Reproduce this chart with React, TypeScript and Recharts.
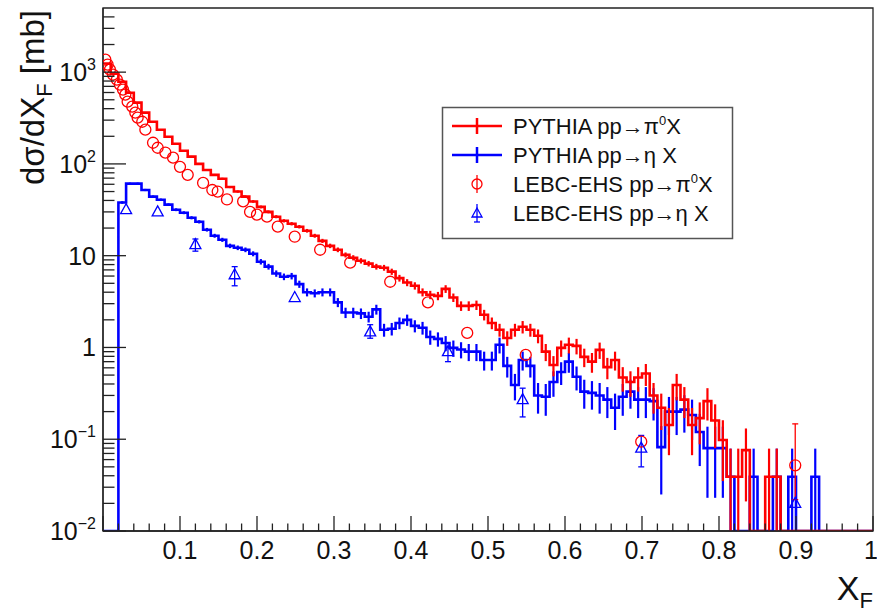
import React from 'react';
import { ComposedChart, Line, Scatter, XAxis, YAxis, ErrorBar, ReferenceArea } from 'recharts';

const FONT = '"Liberation Sans", Arial, Helvetica, sans-serif';
const RED = '#ff0000';
const BLUE = '#0000ff';
const AXIS = '#222';

const W = 877;
const H = 614;
const PLOT = { left: 103, right: 873, top: 8, bottom: 531 };

const Y_MIN = 0.01;
const Y_MAX = 5000;
const BIN_WIDTH = 0.01;

// PYTHIA pp -> pi0 X, bin contents (mb), 100 bins of 0.01 in xF
const pythiaPi0 = [
  1240, 963, 787, 597, 465, 362, 288, 236, 198, 166,
  139, 120, 100, 86, 76, 69, 56, 50, 44, 39,
  34, 30, 26.6, 24, 22.3, 20.7, 18.7, 16.5, 14.5, 12.8,
  11.6, 10.2, 9.5, 8.8, 8.2, 7.6, 7.4, 6.7, 5.7, 5.1,
  4.7, 4.0, 3.75, 3.65, 4.35, 3.5, 2.84, 2.84, 2.9, 2.27,
  1.85, 1.56, 1.27, 1.56, 1.68, 1.56, 1.34, 0.9, 0.645, 0.99,
  1.07, 1.04, 0.79, 0.7, 0.94, 0.61, 0.73, 0.47, 0.42, 0.47,
  0.52, 0.3, 0.22, 0.143, 0.39, 0.27, 0.143, 0.17, 0.26, 0.16,
  0.098, 0.039, 0.039, 0.076, 0, 0, 0.039, 0.039, 0, 0,
  0, 0, 0, 0, 0, 0, 0, 0, 0, 0,
];
const pythiaPi0Err = [
  7.0, 6.2, 5.6, 4.9, 4.3, 3.8, 3.4, 3.1, 2.8, 2.6,
  2.4, 2.2, 2.0, 1.85, 1.74, 1.66, 1.5, 1.41, 1.33, 1.25,
  1.17, 1.1, 1.03, 0.98, 0.94, 0.91, 0.86, 0.81, 0.76, 0.72,
  0.68, 0.64, 0.62, 0.59, 0.57, 0.55, 0.54, 0.52, 0.48, 0.45,
  0.43, 0.4, 0.39, 0.38, 0.42, 0.37, 0.34, 0.34, 0.34, 0.3,
  0.27, 0.25, 0.23, 0.25, 0.26, 0.25, 0.23, 0.19, 0.16, 0.2,
  0.21, 0.2, 0.18, 0.17, 0.19, 0.16, 0.17, 0.14, 0.13, 0.14,
  0.14, 0.11, 0.094, 0.076, 0.125, 0.1, 0.076, 0.082, 0.1, 0.08,
  0.063, 0.04, 0.04, 0.055, 0, 0, 0.04, 0.04, 0, 0,
  0, 0, 0, 0, 0, 0, 0, 0, 0, 0,
];

// PYTHIA pp -> eta X
const pythiaEta = [
  0, 0, 38, 61, 61, 52, 44, 40.7, 36, 31.7,
  29.4, 25.9, 23.4, 19.2, 16.5, 14.9, 12.8, 12.2, 11.6, 10.5,
  8.6, 7.6, 6.4, 5.9, 6.0, 4.9, 4.0, 3.9, 4.0, 4.0,
  3.1, 2.4, 2.4, 2.35, 2.16, 2.6, 1.56, 1.6, 1.85, 2.0,
  1.72, 1.64, 1.3, 1.24, 1.12, 0.99, 0.95, 0.9, 0.9, 0.73,
  0.73, 1.07, 0.63, 0.39, 0.73, 0.63, 0.3, 0.29, 0.42, 0.54,
  0.7, 0.48, 0.33, 0.32, 0.3, 0.27, 0.22, 0.29, 0.33, 0.27,
  0.27, 0.26, 0.082, 0.2, 0.2, 0.21, 0.184, 0.12, 0.08, 0.08,
  0.08, 0.039, 0, 0, 0.039, 0, 0, 0.039, 0, 0.039,
  0, 0, 0.039, 0, 0, 0, 0, 0, 0, 0,
];
const pythiaEtaErr = [
  0, 0, 1.23, 1.56, 1.56, 1.44, 1.33, 1.28, 1.2, 1.13,
  1.08, 1.02, 0.97, 0.88, 0.81, 0.77, 0.72, 0.7, 0.68, 0.65,
  0.59, 0.55, 0.51, 0.49, 0.49, 0.44, 0.4, 0.39, 0.4, 0.4,
  0.35, 0.31, 0.31, 0.31, 0.29, 0.32, 0.25, 0.25, 0.27, 0.28,
  0.26, 0.26, 0.23, 0.22, 0.21, 0.2, 0.19, 0.19, 0.19, 0.17,
  0.17, 0.21, 0.16, 0.125, 0.17, 0.16, 0.11, 0.11, 0.13, 0.15,
  0.17, 0.14, 0.115, 0.11, 0.11, 0.1, 0.094, 0.11, 0.115, 0.1,
  0.1, 0.1, 0.057, 0.089, 0.089, 0.092, 0.086, 0.069, 0.057, 0.057,
  0.057, 0.04, 0, 0, 0.04, 0, 0, 0.04, 0, 0.04,
  0, 0, 0.04, 0, 0, 0, 0, 0, 0, 0,
];

// LEBC-EHS pp -> pi0 X (open circles)
const lebcPi0X = [
  0.003, 0.006, 0.009, 0.013, 0.018, 0.022, 0.026, 0.029, 0.032, 0.038,
  0.042, 0.045, 0.051, 0.055, 0.065, 0.071, 0.081, 0.091, 0.1, 0.11,
  0.13, 0.142, 0.149, 0.161, 0.182, 0.191, 0.2, 0.213, 0.227, 0.249,
  0.282, 0.321, 0.373, 0.422, 0.473, 0.549, 0.699, 0.899,
];
const lebcPi0Y = [
  1370, 1207, 1065, 939, 828, 731, 644, 568, 477, 421,
  362, 319, 288, 236, 170, 150, 133, 117, 93, 76,
  62, 52, 50, 41, 39, 30, 28, 26.6, 20.7, 16.1,
  11.6, 8.4, 5.2, 3.1, 1.44, 0.83, 0.094, 0.052,
];
// error bars only where they stick out of the marker
const lebcPi0ErrLo: (number | null)[] = [
  null, null, null, null, null, null, null, null, null, null,
  null, null, null, null, null, null, null, null, null, null,
  null, null, null, null, null, null, null, null, null, null,
  null, null, null, null, null, null, null, 0.03,
];
const lebcPi0ErrHi: (number | null)[] = [
  null, null, null, null, null, null, null, null, null, null,
  null, null, null, null, null, null, null, null, null, null,
  null, null, null, null, null, null, null, null, null, null,
  null, null, null, null, null, null, null, 0.095,
];

// LEBC-EHS pp -> eta X (open triangles)
const lebcEtaX = [0.03, 0.071, 0.12, 0.171, 0.249, 0.347, 0.448, 0.545, 0.699, 0.899];
const lebcEtaY = [31.7, 30, 13.2, 6.2, 3.5, 1.48, 0.9, 0.27, 0.08, 0.02];
const lebcEtaErrLo: (number | null)[] = [null, null, 2.0, 1.5, null, 0.22, 0.2, 0.095, 0.03, null];
const lebcEtaErrHi: (number | null)[] = [null, null, 2.0, 1.4, null, 0.29, 0.11, 0.09, 0.03, null];

// axis ticks
const xTicks = Array.from({ length: 51 }, (_, i) => +(i * 0.02).toFixed(2));
const xLabelTicks = [0.1, 0.2, 0.3, 0.4, 0.5, 0.6, 0.7, 0.8, 0.9, 1];
const yDecades = [0.01, 0.1, 1, 10, 100, 1000];
const yDecadeLabels: [string, string][] = [['10', '\u22122'], ['10', '\u22121'], ['1', ''], ['10', ''], ['10', '2'], ['10', '3']];
const yTicks = yDecades.flatMap((d) => [1, 2, 3, 4, 5, 6, 7, 8, 9].map((m) => +(d * m).toPrecision(3))).filter((v) => v < Y_MAX);

const isMajorX = (v: number) => Math.abs(v * 10 - Math.round(v * 10)) < 1e-6;
const isMajorY = (v: number) => Math.abs(Math.log10(v) - Math.round(Math.log10(v))) < 1e-6;

// frame tick positions (same linear / log mapping as the chart axes)
const tickX = (v: number) => PLOT.left + (PLOT.right - PLOT.left) * v;
const tickY = (v: number) =>
  PLOT.bottom - ((PLOT.bottom - PLOT.top) * (Math.log10(v) - Math.log10(Y_MIN))) / (Math.log10(Y_MAX) - Math.log10(Y_MIN));

const histLine = (vals: number[]) => [
  ...vals.map((v, i) => ({ x: +(i * BIN_WIDTH).toFixed(2), y: Math.max(v, Y_MIN) })),
  { x: vals.length * BIN_WIDTH, y: Math.max(vals[vals.length - 1], Y_MIN) },
];
const histErr = (vals: number[], errs: number[]) =>
  vals
    .map((v, i) => ({ x: (i + 0.5) * BIN_WIDTH, y: v, e: errs[i], err: [Math.min(errs[i], v - Y_MIN), errs[i]] }))
    .filter((p) => p.y > 0 && p.e > 0);
const points = (xs: number[], ys: number[], lo: (number | null)[], hi: (number | null)[]) =>
  xs.map((x, i) => ({ x, y: ys[i], err: lo[i] != null ? [lo[i], hi[i]] : undefined }));

const pi0Hist = histLine(pythiaPi0);
const etaHist = histLine(pythiaEta);
const pi0HistErr = histErr(pythiaPi0, pythiaPi0Err);
const etaHistErr = histErr(pythiaEta, pythiaEtaErr);
const pi0Points = points(lebcPi0X, lebcPi0Y, lebcPi0ErrLo, lebcPi0ErrHi);
const etaPoints = points(lebcEtaX, lebcEtaY, lebcEtaErrLo, lebcEtaErrHi);

const XLabel = (props: any) => {
  const { x, y, payload } = props;
  const v = payload.value;
  const last = v >= 1;
  return (
    <text x={last ? x + 5 : x} y={y + 28} textAnchor={last ? 'end' : 'middle'} fontSize={25} fontFamily={FONT} fill="#111">
      {+v.toFixed(1)}
    </text>
  );
};

const YLabel = (props: any) => {
  const { x, y, payload } = props;
  const v = payload.value;
  const idx = yDecades.findIndex((d) => Math.abs(d - v) / d < 1e-6);
  if (idx < 0) return <g />;
  const lab = yDecadeLabels[idx];
  return (
    <text x={x - 7} y={y + 9} textAnchor="end" fontSize={25} fontFamily={FONT} fill="#111">
      {lab[0]}
      {lab[1] && (
        <tspan dy={-11} fontSize={16}>
          {lab[1]}
        </tspan>
      )}
    </text>
  );
};

const Circle = (props: any) => (
  <circle cx={props.cx} cy={props.cy} r={5.5} fill="none" stroke={RED} strokeWidth={1.3} />
);
const Triangle = (props: any) => {
  const { cx, cy } = props;
  return (
    <polygon
      points={`${cx},${cy - 6} ${cx - 5.5},${cy + 4} ${cx + 5.5},${cy + 4}`}
      fill="none"
      stroke={BLUE}
      strokeWidth={1.3}
    />
  );
};
const NoMark = () => <g />;

const legendRows = [
  { label: 'PYTHIA pp\u2192\u03c0', sup: '0', tail: 'X', color: RED, kind: 'line' },
  { label: 'PYTHIA pp\u2192\u03b7 X', sup: '', tail: '', color: BLUE, kind: 'line' },
  { label: 'LEBC-EHS pp\u2192\u03c0', sup: '0', tail: 'X', color: RED, kind: 'circle' },
  { label: 'LEBC-EHS pp\u2192\u03b7 X', sup: '', tail: '', color: BLUE, kind: 'triangle' },
];

export default function App() {
  return (
    <div style={{ position: 'absolute', left: 0, top: 0, width: W, height: H, background: '#fff' }}>
      <ComposedChart width={W} height={H} margin={{ top: PLOT.top, right: W - PLOT.right, bottom: 0, left: 0 }}>
        <ReferenceArea x1={0} x2={1} y1={Y_MIN} y2={Y_MAX} fill="none" stroke={AXIS} strokeWidth={1.3} ifOverflow="visible" />
        <XAxis
          type="number"
          dataKey="x"
          domain={[0, 1]}
          ticks={xLabelTicks}
          interval={0}
          allowDataOverflow
          height={H - PLOT.bottom}
          tickSize={0}
          tickMargin={0}
          tickLine={false}
          axisLine={{ stroke: AXIS, strokeWidth: 1.3 }}
          tick={(p: any) => <XLabel {...p} />}
        />
        <YAxis
          type="number"
          dataKey="y"
          scale="log"
          domain={[Y_MIN, Y_MAX]}
          ticks={yDecades}
          interval={0}
          allowDataOverflow
          width={PLOT.left}
          tickSize={0}
          tickMargin={0}
          tickLine={false}
          axisLine={{ stroke: AXIS, strokeWidth: 1.3 }}
          tick={(p: any) => <YLabel {...p} />}
        />
        <Line data={etaHist} type="stepAfter" dataKey="y" stroke={BLUE} strokeWidth={2.6} dot={false} isAnimationActive={false} />
        <Scatter data={etaHistErr} shape={NoMark} isAnimationActive={false}>
          <ErrorBar dataKey="err" direction="y" width={0} stroke={BLUE} strokeWidth={2.2} />
        </Scatter>
        <Line data={pi0Hist} type="stepAfter" dataKey="y" stroke={RED} strokeWidth={2.6} dot={false} isAnimationActive={false} />
        <Scatter data={pi0HistErr} shape={NoMark} isAnimationActive={false}>
          <ErrorBar dataKey="err" direction="y" width={0} stroke={RED} strokeWidth={2.2} />
        </Scatter>
        <Scatter data={pi0Points} shape={Circle} isAnimationActive={false}>
          <ErrorBar dataKey="err" direction="y" width={3} stroke={RED} strokeWidth={1.3} />
        </Scatter>
        <Scatter data={etaPoints} shape={Triangle} isAnimationActive={false}>
          <ErrorBar dataKey="err" direction="y" width={3} stroke={BLUE} strokeWidth={1.3} />
        </Scatter>
      </ComposedChart>

      <svg width={W} height={H} style={{ position: 'absolute', left: 0, top: 0, pointerEvents: 'none' }} fontFamily={FONT}>
        {/* inward frame ticks */}
        {xTicks.map((v) => (
          <line
            key={`xt${v}`}
            x1={tickX(v)}
            x2={tickX(v)}
            y1={PLOT.bottom}
            y2={PLOT.bottom - (isMajorX(v) ? 15 : 7.5)}
            stroke={AXIS}
            strokeWidth={1.3}
          />
        ))}
        {yTicks.map((v) => (
          <line
            key={`yt${v}`}
            x1={PLOT.left}
            x2={PLOT.left + (isMajorY(v) ? 23 : 11.5)}
            y1={tickY(v)}
            y2={tickY(v)}
            stroke={AXIS}
            strokeWidth={1.3}
          />
        ))}

        <text transform="translate(44,10) rotate(-90)" textAnchor="end" fontSize={33} fill="#111">
          d{'\u03c3'}/dX
          <tspan dy={8} fontSize={22}>F</tspan>
          <tspan dy={-8}> [mb]</tspan>
        </text>
        <text x={873} y={600} textAnchor="end" fontSize={34} fill="#111">
          X<tspan dy={8} fontSize={22}>F</tspan>
        </text>

        <rect x={442.5} y={107.5} width={290} height={131} fill="#fff" stroke="#555" strokeWidth={1.5} />
        {legendRows.map((r, i) => {
          const cy = 126 + i * 29;
          return (
            <g key={i}>
              {r.kind === 'line' && (
                <>
                  <line x1={452} x2={502} y1={cy} y2={cy} stroke={r.color} strokeWidth={2.5} />
                  <line x1={477} x2={477} y1={cy - 8} y2={cy + 8} stroke={r.color} strokeWidth={2.5} />
                </>
              )}
              {r.kind === 'circle' && (
                <>
                  <line x1={477} x2={477} y1={cy - 9} y2={cy + 9} stroke={r.color} strokeWidth={1.3} />
                  <circle cx={477} cy={cy} r={5} fill="none" stroke={r.color} strokeWidth={1.3} />
                </>
              )}
              {r.kind === 'triangle' && (
                <>
                  <line x1={477} x2={477} y1={cy - 9} y2={cy + 9} stroke={r.color} strokeWidth={1.3} />
                  <line x1={474} x2={480} y1={cy + 9} y2={cy + 9} stroke={r.color} strokeWidth={1.3} />
                  <polygon points={`477,${cy - 5} 472,${cy + 4} 482,${cy + 4}`} fill="none" stroke={r.color} strokeWidth={1.3} />
                </>
              )}
              <text x={513} y={cy + 8} fontSize={22} fill="#111">
                {r.label}
                {r.sup && (
                  <tspan dy={-9} fontSize={13}>
                    {r.sup}
                  </tspan>
                )}
                {r.tail && <tspan dy={r.sup ? 9 : 0}>{r.tail}</tspan>}
              </text>
            </g>
          );
        })}
      </svg>
    </div>
  );
}
